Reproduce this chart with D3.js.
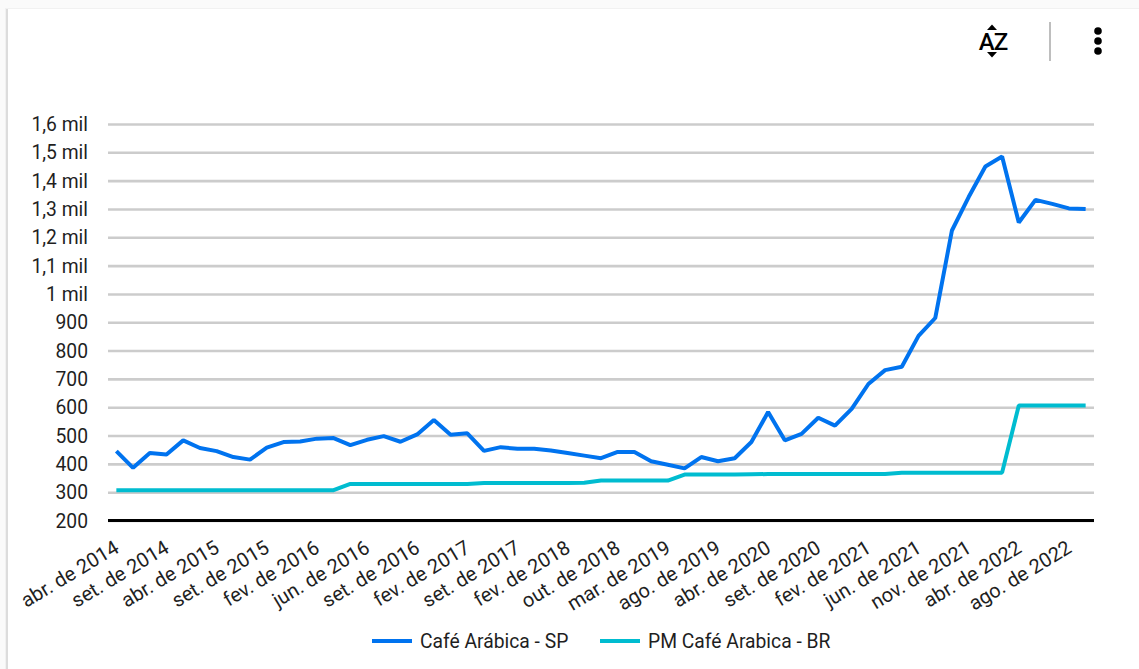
<!DOCTYPE html>
<html>
<head>
<meta charset="utf-8">
<script src="https://cdn.jsdelivr.net/npm/d3@7"></script>
<style>
  body { margin: 0; background: #fff; font-family: Roboto, sans-serif; }
  svg { display: block; }
</style>
</head>
<body>
<svg id="drawing_region"></svg>
<script>
// values, one per month shown on the axis
const cafeSP = [445, 386, 438, 433, 483, 456, 445, 424, 415, 457,
  477, 479, 489, 491, 466, 485, 498, 478, 504, 555,
  503, 508, 446, 459, 453, 453, 447, 438, 429, 420,
  442, 442, 409, 397, 384, 424, 409, 420, 477, 583,
  483, 506, 563, 535, 594, 682, 731, 743, 852, 915,
  1224, 1342, 1450, 1485, 1252, 1332, 1318, 1302, 1300];
const pmBR = [307, 307, 307, 307, 307, 307, 307, 307, 307, 307,
  307, 307, 307, 307, 329, 329, 329, 329, 329, 329,
  329, 329, 332, 332, 332, 332, 332, 332, 333, 341,
  341, 341, 341, 341, 362, 362, 362, 362, 363, 364,
  364, 364, 364, 364, 364, 364, 364, 369, 369, 369,
  369, 369, 369, 369, 606, 606, 606, 606, 606];

// only every third month has a label
const tickLabels = ["abr. de 2014", "set. de 2014", "abr. de 2015", "set. de 2015",
  "fev. de 2016", "jun. de 2016", "set. de 2016", "fev. de 2017", "set. de 2017",
  "fev. de 2018", "out. de 2018", "mar. de 2019", "ago. de 2019", "abr. de 2020",
  "set. de 2020", "fev. de 2021", "jun. de 2021", "nov. de 2021", "abr. de 2022",
  "ago. de 2022"];
const yTicks = [200, 300, 400, 500, 600, 700, 800, 900, 1000, 1100, 1200, 1300, 1400, 1500, 1600];
const seriesNames = ["Café Arábica - SP", "PM Café Arabica - BR"];
const seriesColors = ["#0073ef", "#00bcd0"];

const config = {
  width: 1139,
  height: 669,
  margin: {top: 124, right: 45, bottom: 148.5, left: 108}
};
const inner_width = config.width - config.margin.left - config.margin.right;
const inner_height = config.height - config.margin.top - config.margin.bottom;

const svg = d3.select('#drawing_region')
  .attr('width', config.width)
  .attr('height', config.height);

// card edge
svg.append('rect')
  .attr('width', config.width).attr('height', config.height)
  .attr('fill', '#fafafa');
svg.append('rect')
  .attr('x', 5).attr('y', 8)
  .attr('width', config.width).attr('height', config.height)
  .attr('fill', '#f1f1f1');
svg.append('rect')
  .attr('x', 6).attr('y', 9)
  .attr('width', 2).attr('height', config.height)
  .attr('fill', '#dcdcdc');
svg.append('rect')
  .attr('x', 8).attr('y', 9)
  .attr('width', config.width).attr('height', config.height)
  .attr('fill', '#fff');

const chart = svg.append('g')
  .attr('transform', `translate(${config.margin.left}, ${config.margin.top})`);

const xscale = d3.scaleBand()
  .domain(d3.range(cafeSP.length))
  .range([0, inner_width]);
const yscale = d3.scaleLinear()
  .domain([200, 1600])
  .range([inner_height, 0]);

const yaxis = d3.axisLeft(yscale)
  .tickValues(yTicks)
  .tickSize(-inner_width)
  .tickPadding(20)
  .tickFormat(d => d < 1000 ? d : (d / 1000).toString().replace('.', ',') + ' mil');

const yg = chart.append('g').call(yaxis);
yg.select('.domain').remove();
yg.selectAll('line')
  .attr('stroke', '#cccccc')
  .attr('stroke-width', 2.6);
yg.selectAll('text')
  .attr('fill', '#1f1f1f')
  .attr('dy', '0.34em')
  .style('font-family', 'Roboto')
  .style('font-size', '19.3px');

// baseline
chart.append('line')
  .attr('x1', 0).attr('x2', inner_width)
  .attr('y1', yscale(200)).attr('y2', yscale(200))
  .attr('stroke', '#000')
  .attr('stroke-width', 3);

const xaxis = d3.axisBottom(xscale)
  .tickValues(d3.range(0, cafeSP.length, 3))
  .tickSize(0)
  .tickFormat((d, i) => tickLabels[i]);

const xg = chart.append('g')
  .attr('transform', `translate(0, ${inner_height})`)
  .call(xaxis);
xg.select('.domain').remove();
xg.selectAll('text')
  .attr('fill', '#1f1f1f')
  .attr('text-anchor', 'end')
  .attr('dy', 0)
  .attr('y', 0)
  .attr('transform', 'translate(4, 31) rotate(-31)')
  .style('font-family', 'Roboto')
  .style('font-size', '20px');

const line = d3.line()
  .x((d, i) => xscale(i) + xscale.bandwidth() / 2)
  .y(d => yscale(d));

chart.selectAll('.series')
  .data([cafeSP, pmBR])
  .join('path')
  .attr('class', 'series')
  .attr('d', line)
  .attr('fill', 'none')
  .attr('stroke', (d, i) => seriesColors[i])
  .attr('stroke-width', 4)
  .attr('stroke-linejoin', 'bevel');

// legend
const legendX = [372, 600];
const legend = svg.selectAll('.legend')
  .data(seriesNames)
  .join('g')
  .attr('class', 'legend')
  .attr('transform', (d, i) => `translate(${legendX[i]}, 641)`);
legend.append('line')
  .attr('x1', 0).attr('x2', 40)
  .attr('stroke', (d, i) => seriesColors[i])
  .attr('stroke-width', 4);
legend.append('text')
  .attr('x', 48)
  .attr('dy', '0.35em')
  .attr('fill', '#1f1f1f')
  .style('font-family', 'Roboto')
  .style('font-size', '19.3px')
  .text(d => d);

// toolbar icons
const tools = svg.append('g');
tools.append('text')
  .attr('x', 993).attr('y', 50)
  .attr('text-anchor', 'middle')
  .style('font-family', 'Roboto')
  .style('font-size', '24px')
  .style('font-weight', 500)
  .style('letter-spacing', '-1px')
  .text('AZ');
tools.append('path').attr('d', 'M987 30 L992 24.5 L997 30 Z');
tools.append('path').attr('d', 'M987 52 L992 57.5 L997 52 Z');
tools.append('line')
  .attr('x1', 1050).attr('x2', 1050)
  .attr('y1', 22).attr('y2', 61)
  .attr('stroke', '#a8a8a8')
  .attr('stroke-width', 1.5);
tools.selectAll('circle')
  .data([31, 41, 51])
  .join('circle')
  .attr('cx', 1098)
  .attr('cy', d => d)
  .attr('r', 3.8);
</script>
</body>
</html>
